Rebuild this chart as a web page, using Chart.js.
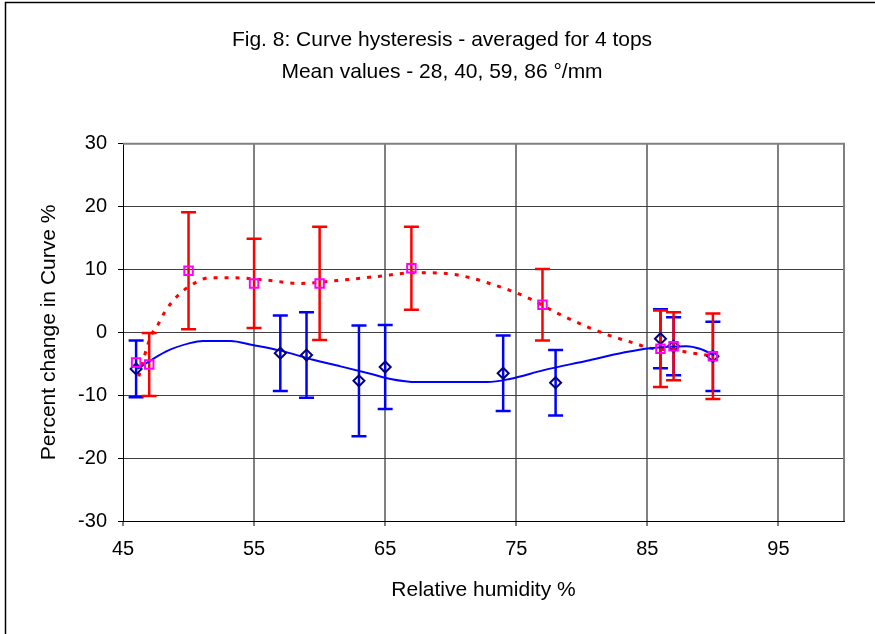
<!DOCTYPE html>
<html>
<head>
<meta charset="utf-8">
<script src="https://cdn.jsdelivr.net/npm/chart.js@4"></script>
<style>
  html, body { margin: 0; padding: 0; background: #fff; }
  #wrap { width: 875px; height: 634px; }
</style>
</head>
<body>
<div id="wrap"><canvas id="chart"></canvas></div>
<script>
// measured points (relative humidity %, percent change)
const blueX = [46, 57, 59, 63, 65, 74, 78, 86, 87, 90];
const blueY = [-5.8, -3.3, -3.6, -7.7, -5.5, -6.5, -8.0, -1.0, -2.2, -3.8];
const blueErr = [4.5, 6.0, 6.8, 8.8, 6.7, 6.0, 5.2, 4.7, 4.6, 5.5];

const redX = [46, 47, 50, 55, 60, 67, 77, 86, 87, 90];
const redY = [-4.8, -5.1, 9.8, 7.8, 7.8, 10.2, 4.4, -2.6, -2.2, -3.8];
const redErr = [null, 5.0, 9.3, 7.1, 9.0, 6.6, 5.7, 6.1, 5.4, 6.8];

// smoothed curves
const blueCurveX = [46.1, 48.3, 50.1, 51.1, 53.2, 54.9, 57.0, 59.5, 61.6, 64.1, 65.4, 67.4, 72.8, 74.5, 77.1, 80.4, 83.2, 85.2, 88.0, 89.0, 90.1];
const blueCurveY = [-5.8, -3.0, -1.7, -1.35, -1.35, -2.0, -2.9, -4.35, -5.4, -6.7, -7.4, -7.9, -7.9, -7.4, -6.0, -4.5, -3.2, -2.5, -2.2, -2.6, -3.6];

const redCurveX = [46.2, 47.1, 47.7, 48.2, 49.2, 50.6, 51.6, 53.4, 56.0, 58.5, 61.1, 64.4, 67.4, 69.5, 71.5, 72.8, 74.5, 76.1, 78.1, 80.4, 82.2, 84.0, 85.2, 87.0, 88.5, 90.1];
const redCurveY = [-7.0, -0.7, 1.35, 3.3, 5.9, 8.0, 8.7, 8.7, 8.3, 7.8, 8.2, 8.9, 9.5, 9.4, 8.7, 7.9, 6.7, 5.3, 3.1, 0.9, -0.55, -1.7, -2.5, -2.8, -3.3, -3.8];

const xTicks = [45, 55, 65, 75, 85, 95];
const yTicks = [-30, -20, -10, 0, 10, 20, 30];

const FONT = 'Liberation Sans, Arial, sans-serif';

const pts = (xs, ys) => xs.map((x, i) => ({ x: x, y: ys[i] }));

// error bars + frame
const extras = {
  id: 'extras',
  beforeDatasetsDraw(chart) {
    const { ctx, scales: { x, y } } = chart;
    const bars = [
      { xs: blueX, ys: blueY, es: blueErr, color: '#0000ff' },
      { xs: redX, ys: redY, es: redErr, color: '#ff0000' }
    ];
    ctx.save();
    bars.forEach(b => {
      ctx.strokeStyle = b.color;
      ctx.lineWidth = 2.5;
      b.xs.forEach((xv, i) => {
        if (b.es[i] == null) return;
        const px = x.getPixelForValue(xv);
        const top = y.getPixelForValue(b.ys[i] + b.es[i]);
        const bot = y.getPixelForValue(b.ys[i] - b.es[i]);
        ctx.beginPath();
        ctx.moveTo(px, top); ctx.lineTo(px, bot);
        ctx.moveTo(px - 7.5, top); ctx.lineTo(px + 7.5, top);
        ctx.moveTo(px - 7.5, bot); ctx.lineTo(px + 7.5, bot);
        ctx.stroke();
      });
    });
    ctx.restore();
  },
  afterDraw(chart) {
    const { ctx, chartArea: a } = chart;
    ctx.save();
    ctx.strokeStyle = '#808080';
    ctx.lineWidth = 2;
    ctx.beginPath();
    ctx.moveTo(a.left, a.top);
    ctx.lineTo(a.right, a.top);
    ctx.lineTo(a.right, a.bottom);
    ctx.stroke();
    ctx.strokeStyle = '#000';
    ctx.lineWidth = 1.5;
    ctx.beginPath();
    ctx.moveTo(5.5, 700);
    ctx.lineTo(5.5, 2.5);
    ctx.lineTo(900, 2.5);
    ctx.stroke();
    ctx.restore();
  }
};

new Chart(document.getElementById('chart'), {
  type: 'scatter',
  data: {
    datasets: [
      {
        data: pts(redX, redY),
        pointStyle: 'rect',
        pointRadius: 6,
        pointBorderWidth: 2,
        pointBorderColor: '#ff00ff',
        pointBackgroundColor: 'rgba(0,0,0,0)',
        showLine: false
      },
      {
        data: pts(blueX, blueY),
        pointStyle: 'rectRot',
        pointRadius: 5.5,
        pointBorderWidth: 2,
        pointBorderColor: '#000080',
        pointBackgroundColor: 'rgba(0,0,0,0)',
        showLine: false
      },
      {
        data: pts(blueCurveX, blueCurveY),
        showLine: true,
        borderColor: '#0000ff',
        borderWidth: 2,
        pointRadius: 0,
        cubicInterpolationMode: 'monotone'
      },
      {
        data: pts(redCurveX, redCurveY),
        showLine: true,
        borderColor: '#ff0000',
        borderWidth: 3,
        borderDash: [4, 7],
        pointRadius: 0,
        cubicInterpolationMode: 'monotone'
      }
    ]
  },
  options: {
    responsive: true,
    maintainAspectRatio: false,
    animation: false,
    events: [],
    layout: { padding: { left: 9, top: 0, right: 0, bottom: 0 } },
    plugins: {
      legend: { display: false },
      tooltip: { enabled: false },
      title: {
        display: true,
        text: ['Fig. 8: Curve hysteresis - averaged for 4 tops', 'Mean values - 28, 40, 59, 86 °/mm'],
        color: '#000',
        font: { family: FONT, size: 21, weight: 'normal', lineHeight: 1.52 },
        padding: { top: 24, bottom: 56 }
      }
    },
    scales: {
      x: {
        type: 'linear',
        min: 45,
        max: 100,
        afterBuildTicks: s => { s.ticks = xTicks.map(v => ({ value: v })); },
        afterFit: s => { s.height = 113; },
        ticks: { color: '#000', font: { family: FONT, size: 20 }, padding: 11, maxRotation: 0 },
        grid: {
          color: c => (c.tick && c.tick.value === 45 ? 'rgba(0,0,0,0)' : '#808080'),
          lineWidth: 2,
          tickColor: '#000',
          tickLength: 5,
          tickWidth: 1
        },
        border: { color: '#000', width: 1 },
        title: {
          display: true,
          text: 'Relative humidity %',
          color: '#000',
          font: { family: FONT, size: 21 },
          padding: { top: 0, bottom: 31 }
        }
      },
      y: {
        min: -30,
        max: 30,
        afterBuildTicks: s => { s.ticks = yTicks.map(v => ({ value: v })); },
        afterFit: s => { s.width = 114; },
        ticks: { color: '#000', font: { family: FONT, size: 20 }, padding: 11 },
        grid: {
          color: c => (c.tick && (c.tick.value === -30 || c.tick.value === 30) ? 'rgba(0,0,0,0)' : '#404040'),
          lineWidth: 1,
          tickColor: '#000',
          tickLength: 5,
          tickWidth: 1
        },
        border: { color: '#000', width: 1 },
        title: {
          display: true,
          text: 'Percent change in Curve %',
          color: '#000',
          font: { family: FONT, size: 21 },
          padding: { top: 28, bottom: 0 }
        }
      },
      yRight: {
        position: 'right',
        display: true,
        afterFit: s => { s.width = 31; },
        ticks: { display: false },
        grid: { display: false },
        border: { display: false }
      }
    }
  },
  plugins: [extras]
});
</script>
</body>
</html>
